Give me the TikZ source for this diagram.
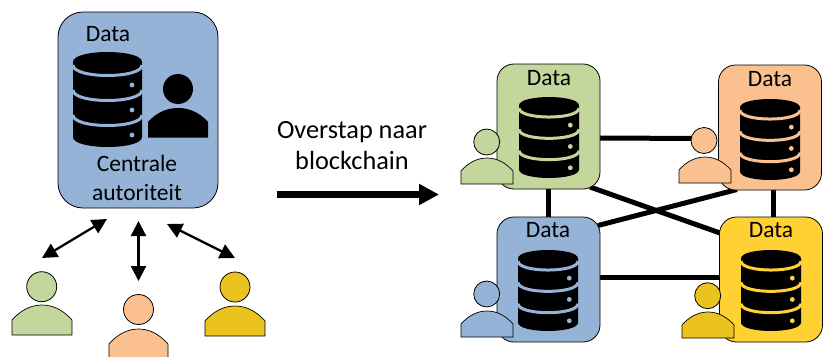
\documentclass[tikz,border=0pt]{standalone}
\usepackage{fontspec}
\setmainfont{Carlito}
\usetikzlibrary{arrows.meta}
\definecolor{cblue}{HTML}{95B3D7}
\definecolor{cgreen}{HTML}{C3D69B}
\definecolor{corange}{HTML}{FAC090}
\definecolor{cyellow}{HTML}{FFD133}
\definecolor{cyellowp}{HTML}{EAC31E}
\tikzset{
  lbl/.style={font=\fontsize{23.5}{29}\selectfont,align=center,inner sep=0pt},
  lblb/.style={font=\fontsize{26.3}{31.5}\selectfont,align=center,inner sep=0pt},
  bigbox/.style={draw=black,line width=0.8pt,rounded corners=25pt,inner sep=0pt,outer sep=0pt,fill=#1},
  smallbox/.style={draw=black,line width=0.8pt,rounded corners=17pt,inner sep=0pt,outer sep=0pt,minimum width=103pt,minimum height=125pt,fill=#1},
  link/.style={line width=5pt,black},
  dbl/.style={line width=2.3pt,black,{Triangle[length=15pt,width=15pt]}-{Triangle[length=15pt,width=15pt]}},
  big/.style={line width=7pt,black,-{Triangle[length=20pt,width=20pt]}}
}
% database icon: #1 x, #2 y (top-left), #3 width, #4 height, #5 colour
\newcommand{\dbicon}[5]{%
\begin{scope}[shift={(#1,#2)},x=#3/69*1pt,y=-#4/95*1pt]
  \fill[black] (0,10) .. controls (0,-3.3) and (69,-3.3) .. (69,10) -- (69,85) .. controls (69,98.3) and (0,98.3) .. (0,85) -- cycle;
  \foreach \s in {13,38,63}
    \draw[#5,line width=3pt] (0,\s) .. controls (0,{\s+14}) and (69,{\s+14}) .. (69,\s);
  \foreach \s in {33,58,83}
    \fill[#5] (59,\s) circle[radius=2.4pt];
\end{scope}}
% person: #1 name, #2 head cx, #3 head cy, #4 head r, #5 body left, #6 body top, #7 body width, #8 body height, #9 colour
\newcommand{\person}[9]{%
  \node[circle,draw=black,line width=0.8pt,fill=#9,minimum size=#4*2pt,inner sep=0pt,outer sep=0pt] (#1) at (#2,#3) {};
  \begin{scope}[shift={(#5,#6)},x=#7/60*1pt,y=-#8/30*1pt]
    \path[draw=black,line width=0.7pt,fill=#9] (0,30) -- (0,15) .. controls (8,6) and (18,0) .. (30,0) .. controls (42,0) and (52,6) .. (60,15) -- (60,30) -- cycle;
  \end{scope}}
\begin{document}
\begin{tikzpicture}[x=1pt,y=-1pt]
\clip (0,0) rectangle (829,356);
\coordinate (g1) at (590,187);
\coordinate (y1) at (720,233);
\coordinate (b1) at (598,225.5);
\coordinate (o1) at (737,189.5);
\coordinate (g2) at (600,138);
\coordinate (ohead) at (700,138.5);
\coordinate (b2) at (600,277);
\coordinate (y2) at (719,277);
\coordinate (g3) at (548,189);
\coordinate (b3) at (548,217);
\coordinate (o3) at (773.7,190);
\coordinate (y3) at (773.7,217);
\draw[link] (g1) -- (y1);
\draw[link] (b1) -- (o1);
\draw[link] (g2) -- (ohead);
\draw[link] (b2) -- (y2);
\draw[link] (g3) -- (b3);
\draw[link] (o3) -- (y3);
\node[smallbox=cgreen] (G) at (548.5,126.5) {};
\node[smallbox=corange] (O) at (770,127.5) {};
\node[smallbox=cblue] (B) at (548.5,279.5) {};
\node[smallbox=cyellow] (Y) at (771,279.5) {};
% central box
\node[bigbox=cblue,minimum width=160pt,minimum height=196pt] (C) at (138,110) {};
\node[lbl] (cdata) at (108,34) {Data};
\dbicon{73}{52}{69}{95}{cblue}
\node[circle,fill=black,minimum size=30pt,inner sep=0pt] (chead) at (178,89) {};
\fill[black] (148,137.5) -- (148,122) .. controls (156,113) and (166,108) .. (178,108) .. controls (190,108) and (200,113) .. (208,122) -- (208,137.5) -- cycle;
\node[lbl] (clabel) at (137,178) {Centrale\\autoriteit};
% network box contents
\node[lbl] (dg) at (549,78) {Data};
\node[lbl] (do) at (770,79) {Data};
\node[lbl] (db) at (548,230) {Data};
\node[lbl] (dy) at (771,230) {Data};
\dbicon{519}{97}{60}{81}{cgreen}
\dbicon{740}{99}{60}{81}{corange}
\dbicon{518}{250}{60}{81}{cblue}
\dbicon{741}{250}{60}{81}{cyellow}
% persons network
\person{pg}{486.7}{142}{13}{461}{158}{52}{26}{cgreen}
\person{po}{704}{140.5}{13}{679}{157}{52}{26}{corange}
\person{pb}{486.7}{294}{13}{461}{311}{52}{26}{cblue}
\person{py}{707.7}{295.7}{13}{682}{312}{52}{26}{cyellowp}
% persons below
\person{u1}{41.7}{286.7}{15}{12}{305}{60}{30}{cgreen}
\person{u2}{138.5}{309.5}{15}{109}{329}{59}{30}{corange}
\person{u3}{235}{287}{15}{205}{306}{60}{30}{cyellowp}
% arrows
\coordinate (a1s) at (42,258);
\coordinate (a1e) at (107,219);
\coordinate (a2s) at (138.5,281);
\coordinate (a2e) at (138.5,221);
\coordinate (a3s) at (235,258);
\coordinate (a3e) at (167,224);
\draw[dbl] (a1s) -- (a1e);
\draw[dbl] (a2s) -- (a2e);
\draw[dbl] (a3s) -- (a3e);
% transition
\node[lblb] (t) at (352,145.5) {Overstap naar\\blockchain};
\coordinate (bs) at (277,194.5);
\coordinate (be) at (439,194.5);
\draw[big] (bs) -- (be);
\end{tikzpicture}
\end{document}
